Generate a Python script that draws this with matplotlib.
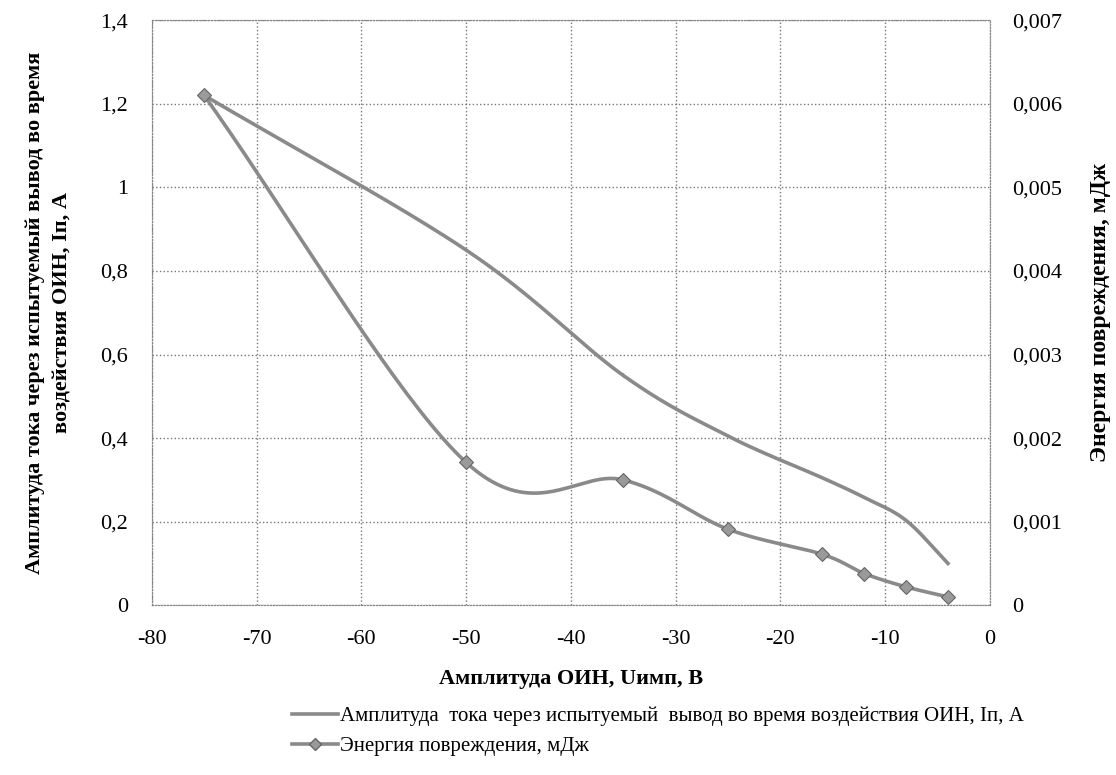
import numpy as np
import matplotlib.pyplot as plt
from matplotlib.lines import Line2D
from matplotlib.ticker import FuncFormatter, MultipleLocator

plt.rcParams['font.family'] = ['Liberation Serif', 'DejaVu Serif']
plt.rcParams['axes.unicode_minus'] = False

# Амплитуда ОИН, В
u_imp = [-75, -50, -35, -25, -16, -12, -8, -4]
# Амплитуда тока через вывод, А
current = [1.22, 0.85, 0.55, 0.405, 0.305, 0.258, 0.203, 0.10]
# Энергия повреждения, мДж
energy = [0.0061, 0.00171, 0.0015, 0.00091, 0.00061, 0.00038, 0.00022, 0.0001]

label_current = "Амплитуда  тока через испытуемый  вывод во время воздействия ОИН, Iп, А"
label_energy = "Энергия повреждения, мДж"


def smooth(x, y, n=40):
    # сглаживание сплайном Катмулла-Рома
    x = np.asarray(x, float)
    y = np.asarray(y, float)
    px = np.concatenate([[2 * x[0] - x[1]], x, [2 * x[-1] - x[-2]]])
    py = np.concatenate([[2 * y[0] - y[1]], y, [2 * y[-1] - y[-2]]])
    xs, ys = [], []
    t = np.linspace(0, 1, n)
    for i in range(1, len(px) - 2):
        for arr, out in ((px, xs), (py, ys)):
            p0, p1, p2, p3 = arr[i - 1:i + 3]
            out.extend(0.5 * (2 * p1 + (-p0 + p2) * t
                              + (2 * p0 - 5 * p1 + 4 * p2 - p3) * t ** 2
                              + (-p0 + 3 * p1 - 3 * p2 + p3) * t ** 3))
    return np.array(xs), np.array(ys)


def comma(v, pos):
    return f"{v:g}".replace('.', ',')


fig = plt.figure(figsize=(11.16, 7.75), dpi=100)
ax = fig.add_axes([0.136, 0.219, 0.751, 0.755])
ax2 = ax.twinx()

line_color = '#8a8a8a'

cx, cy = smooth(u_imp, current)
ax.plot(cx, cy, color=line_color, lw=2.6)

ex, ey = smooth(u_imp, energy)
ax2.plot(ex, ey, color=line_color, lw=2.6)
ax2.plot(u_imp, energy, ls='none', marker='D', ms=7, color='#9a9a9a',
         markeredgecolor='#666666', markeredgewidth=0.8)

ax.set_xlim(-80, 0)
ax.set_ylim(0, 1.4)
ax2.set_ylim(0, 0.007)
ax.xaxis.set_major_locator(MultipleLocator(10))
ax.yaxis.set_major_locator(MultipleLocator(0.2))
ax2.yaxis.set_major_locator(MultipleLocator(0.001))
ax.yaxis.set_major_formatter(FuncFormatter(comma))
ax2.yaxis.set_major_formatter(FuncFormatter(comma))

ax.grid(True, color='#777777', ls=':', lw=1.0)
for a in (ax, ax2):
    for s in a.spines.values():
        s.set_color('#888888')
        s.set_linestyle(':')
    a.tick_params(labelsize=16, length=0)
ax.tick_params(axis='y', pad=17)
ax.tick_params(axis='x', pad=18)
ax2.tick_params(axis='y', pad=16)

ax.set_xlabel("Амплитуда ОИН, Uимп, В", fontsize=16, fontweight='bold', labelpad=14)
ax.set_ylabel("Амплитуда тока через испытуемый вывод во время\nвоздействия ОИН, Iп, А",
              fontsize=16, fontweight='bold', labelpad=20, linespacing=1.5)
ax2.set_ylabel("Энергия повреждения, мДж", fontsize=17, fontweight='bold', labelpad=20)

handles = [
    Line2D([], [], color=line_color, lw=2.6),
    Line2D([], [], color=line_color, lw=2.6, marker='D', ms=6,
           markerfacecolor='#9a9a9a', markeredgecolor='#666666'),
]
fig.legend(handles, [label_current, label_energy], loc='upper left',
           bbox_to_anchor=(0.262, 0.088), frameon=False, fontsize=15,
           handlelength=2.2, handletextpad=0.1, labelspacing=0.5,
           borderaxespad=0, borderpad=0)

fig.savefig('out.png', dpi=100)
